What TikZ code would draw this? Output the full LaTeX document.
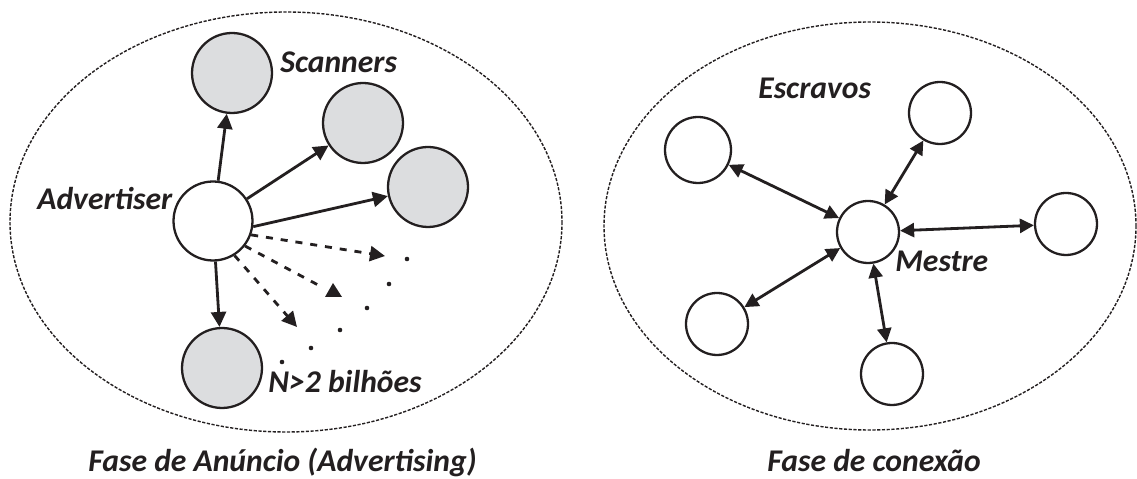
\documentclass[tikz,border=0pt]{standalone}
\usepackage{fontspec}
\setmainfont{Carlito}
\usetikzlibrary{arrows.meta}
\definecolor{ink}{RGB}{35,31,32}
\definecolor{scanfill}{RGB}{220,221,223}
\tikzset{
  lbl/.style={inner sep=0pt, anchor=base west, text=ink,
    font=\fontsize{18}{21}\selectfont\bfseries\itshape},
  scanner/.style={circle, draw=ink, line width=1.3pt, fill=scanfill,
    minimum size=1.6cm, inner sep=0pt},
  advnode/.style={circle, draw=ink, line width=1.3pt, fill=white,
    minimum size=1.58cm, inner sep=0pt},
  slave/.style={circle, draw=ink, line width=1.3pt, fill=white,
    minimum size=1.24cm, inner sep=0pt},
  zone/.style={draw=ink, line width=0.8pt, dash pattern=on 1.8pt off 0.9pt},
  sendarrow/.style={draw=ink, line width=1.6pt,
    -{Triangle[length=0.3cm,width=0.3cm]}},
  dashedsend/.style={draw=ink, line width=1.6pt, dash pattern=on 4pt off 4.5pt},
  linkarrow/.style={draw=ink, line width=1.6pt,
    {Triangle[length=0.28cm,width=0.28cm]}-{Triangle[length=0.28cm,width=0.28cm]}},
  dotmark/.style={fill=ink},
}
\begin{document}
\begin{tikzpicture}[x=0.02cm, y=-0.02cm]
  \useasboundingbox (0,0) rectangle (1137,479);

  % the two phase regions
  \draw[zone] (286,222) ellipse [x radius=276, y radius=210];
  \begin{scope}
    \clip (0,0) rectangle (1137,479);
    \draw[zone] (870,226) ellipse [x radius=266, y radius=204];
  \end{scope}

  % advertising phase
  \node[scanner] (s1) at (232,73) {};
  \node[scanner] (s2) at (363,123) {};
  \node[scanner] (s3) at (428,187) {};
  \node[scanner] (s4) at (222,368) {};
  \node[advnode] (adv) at (213,221) {};

  \draw[sendarrow] (adv) -- (s1);
  \draw[sendarrow] (adv) -- (s2);
  \draw[sendarrow] (adv.-8) -- (s3);
  \draw[sendarrow] (adv) -- (s4);

  \coordinate (d1) at (385,256);
  \coordinate (d2) at (320,286);
  \coordinate (d3) at (297,327);
  \draw[dashedsend, -{Triangle[length=0.3cm,width=0.3cm]}] (adv.-20) -- (d1);
  \draw[dashedsend] (adv.-38) -- (d2);
  \fill[ink] (333,283) -- (342,297) -- (325,297) -- cycle;
  \draw[dashedsend, -{Triangle[length=0.3cm,width=0.3cm]}] (adv.-58) -- (d3);

  \foreach \px/\py in {407/259, 389/284, 367/308, 340/330, 311/348, 282/362}
    \fill[dotmark] (\px,\py) circle (2.3);

  \node[lbl] (lscan) at (280,73) {Scanners};
  \node[lbl] (ladv) at (37,210) {Advertiser};
  \node[lbl] (ln) at (268,393) {N>2 bilhões};
  \node[lbl] (cap1) at (88,472) {Fase de Anúncio (Advertising)};

  % connection phase
  \node[slave] (m) at (868,232) {};
  \node[slave, minimum size=1.32cm] (e1) at (698,150) {};
  \node[slave] (e2) at (940,113) {};
  \node[slave] (e3) at (1066,224) {};
  \node[slave] (e4) at (717,324) {};
  \node[slave] (e5) at (892,374) {};

  \draw[linkarrow] (m) -- (e1);
  \draw[linkarrow] (m) -- (e2);
  \draw[linkarrow] (m) -- (e3);
  \draw[linkarrow] (m.-150) -- (e4);
  \draw[linkarrow] (m) -- (e5);

  \node[lbl] (lesc) at (758,99) {Escravos};
  \node[lbl] (lmes) at (895,272) {Mestre};
  \node[lbl] (cap2) at (767,472) {Fase de conexão};
\end{tikzpicture}
\end{document}
